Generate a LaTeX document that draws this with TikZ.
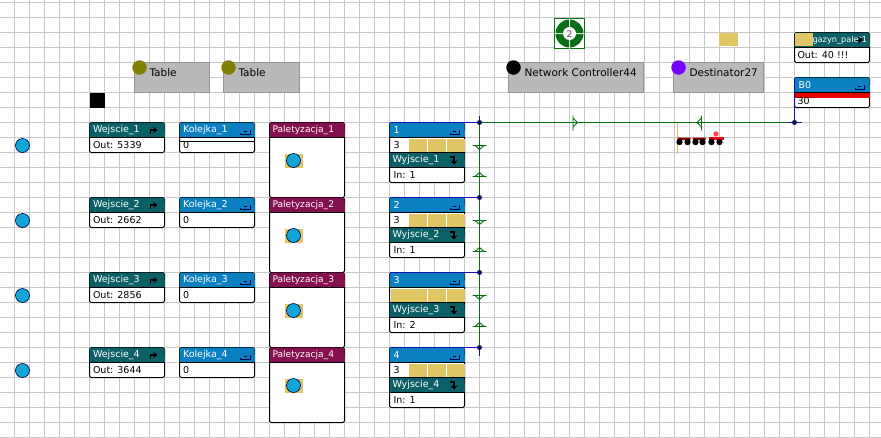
\documentclass[tikz,border=0pt]{standalone}
\usepackage{fontspec}
\setmainfont{DejaVu Sans}
\usetikzlibrary{arrows.meta}
\definecolor{teal1}{HTML}{0B5F66}
\definecolor{blue1}{HTML}{0A80C0}
\definecolor{wine}{HTML}{85104F}
\definecolor{gold}{HTML}{E0C565}
\definecolor{cyan1}{HTML}{12A5D8}
\definecolor{grid1}{HTML}{C8C8C8}
\definecolor{tablegray}{HTML}{B9B9B9}
\definecolor{olive1}{HTML}{808000}
\definecolor{green1}{HTML}{0A6E14}
\definecolor{navy1}{HTML}{1010B0}
\definecolor{purple1}{HTML}{7400FF}
\tikzset{
 x=1pt,y=-1pt,
 every node/.style={inner sep=0pt,outer sep=0pt},
 txt/.style={font=\fontsize{9.5}{10}\selectfont,anchor=west,text=black},
 head/.style={font=\fontsize{9.5}{10}\selectfont,anchor=west,text=white},
 lab/.style={font=\fontsize{10.5}{11}\selectfont,anchor=west},
 box/.style={draw=black,fill=white,line width=1pt,rounded corners=1.5pt,anchor=north west,minimum width=75pt,minimum height=30pt},
 graybox/.style={draw=gray!85,fill=tablegray,line width=.5pt,anchor=north west,minimum height=30pt},
 ball/.style={circle,draw=black!70!blue,line width=.6pt,fill=cyan1,minimum size=14pt},
 pin/.style={circle,minimum size=14.5pt},
 gline/.style={draw=green1,line width=1pt},
 bline/.style={draw=navy1,line width=1pt},
 dot/.style={circle,fill=navy1!50!black,minimum size=5pt}
}
\newcommand{\hdr}[4]{% x,y,w,color
 \fill[#4,rounded corners=1.5pt] (#1,#2) rectangle ++(#3,15);
 \fill[#4] (#1,#2+7) rectangle ++(#3,8);
 \draw[black,line width=1pt] (#1,#2+15) -- ++(#3,0);
}
\newcommand{\blk}[8]{% name,x,y,height,color,title,body,icon
 \node[box,minimum height=#4pt] (#1) at (#2,#3) {};
 \hdr{#2}{#3}{75}{#5}
 \node[head] at (#2+3.5,#3+7.5) {#6};
 \node[txt] at (#2+3.5,#3+22.5) {#7};
 #8
}
\newcommand{\arr}[2]{\draw[black,line width=1.3pt,-{Stealth[length=4pt,width=6pt]}] (#1,#2+3.5) -- ++(0,-3.5) -- ++(7,0);}
\newcommand{\darr}[2]{\draw[black,line width=1.3pt,-{Stealth[length=4pt,width=7pt]}] (#1,#2-3) -- ++(4.5,0) -- ++(0,7.5);}
\newcommand{\tray}[2]{\draw[black!60!navy1,line width=.9pt] (#1,#2-2) -- (#1,#2) -- ++(9.5,0) -- ++(0,-5);\draw[black!60!navy1,line width=.9pt] (#1+3,#2-3) -- ++(3,0);}
\begin{document}
\begin{tikzpicture}
\useasboundingbox (0,0) rectangle (881,437);
\fill[white] (0,0) rectangle (881,437);
\begin{scope}[xshift=.5pt,yshift=-.5pt]
% grid
\foreach \i in {0,...,58} \draw[grid1,line width=1pt] (14+15*\i,-1) -- (14+15*\i,438);
\foreach \i in {0,...,29} \draw[grid1,line width=1pt] (-1,2+15*\i) -- (882,2+15*\i);
% top gray boxes
\node[graybox,minimum width=75pt] (t1) at (134,62) {};
\node[graybox,minimum width=76pt] (t2) at (223,62) {};
\node[graybox,minimum width=135pt] (nc) at (508,62) {};
\node[graybox,minimum width=90pt] (de) at (673,62) {};
\node[pin,fill=olive1] (t1p) at (139,67) {};
\node[pin,fill=olive1] (t2p) at (228,67) {};
\node[pin,fill=black] (ncp) at (513,67) {};
\node[pin,fill=purple1] (dep) at (678,67) {};
\node[lab] at (149,72) {Table};
\node[lab] at (238,72) {Table};
\node[lab] at (524,72) {Network Controller44};
\node[lab] at (689,72) {Destinator27};
\node[fill=black,minimum size=15pt,anchor=north west] (blk) at (89,92) {};
% left balls
\foreach \y/\n in {145/1,220/2,295/3,370/4} \node[ball] (src\n) at (22,\y) {};
% rows
\foreach \n/\y/\o in {1/122/5339,2/197/2662,3/272/2856,4/347/3644}{
 \blk{we\n}{89}{\y}{30}{teal1}{Wejscie\_\n}{Out: \o}{\arr{150}{\y+7.5}}
 \blk{ko\n}{179}{\y}{30}{blue1}{Kolejka\_\n}{0}{\tray{240}{\y+12}}
 \node[box,minimum height=75pt] (pa\n) at (269,\y) {};
 \hdr{269}{\y}{75}{wine}
 \node[head,font=\fontsize{9.1}{10}\selectfont] at (272,\y+7.5) {Paletyzacja\_\n};
 \fill[gold] (284,\y+31) rectangle ++(18,14);
 \node[ball] (pb\n) at (293,\y+38) {};
}
\draw[black,line width=1pt] (179,141) -- (254,141);
% queues
\foreach \n/\y/\c/\i in {1/122/3/1,2/197/3/1,3/272//2,4/347/3/1}{
 \node[box,minimum height=60pt] (q\n) at (389,\y) {};
 \hdr{389}{\y}{75}{blue1}
 \node[head] at (393,\y+7.5) {\n};
 \hdr{389}{\y+30}{75}{teal1}
 \draw[black,line width=1pt] (389,\y+30) -- (464,\y+30);
 \node[head] at (392,\y+37.5) {Wyjscie\_\n};
 \node[txt] at (393,\y+52.5) {In: \i};
 \node[txt] at (393,\y+22.5) {\c};
 \tray{449.5}{\y+12}
 \darr{449}{\y+37.5}
}
\foreach \y in {122,197,347}{
 \fill[gold] (408,\y+16) rectangle (426,\y+29);
 \fill[gold] (427,\y+16) rectangle (445,\y+29);
 \fill[gold] (446,\y+16) rectangle (464,\y+29);
}
\fill[gold] (390,288) rectangle (426,301);
\fill[gold] (427,288) rectangle (445,301);
\fill[gold] (446,288) rectangle (464,301);
% magazyn, B0
\node[box] (mg) at (794,32) {};
\hdr{794}{32}{75}{teal1}
\node[head,font=\fontsize{8.2}{10}\selectfont] at (812,39.5) {gazyn\_palet1};
\fill[gold] (794,32) rectangle (812,45);
\fill[black] (858,36) -- (862.5,39.5) -- (858,43) -- cycle;
\draw[black,line width=1pt] (855,39.5) -- (860,39.5);
\node[txt] at (797,54.5) {Out: 40 !!!};
\node[box] (b0) at (794,77) {};
\hdr{794}{77}{75}{blue1}
\fill[red!90!black] (794,92) rectangle (869,97);
\node[head] at (798,84.5) {B0};
\node[txt] at (797,100.5) {30};
\tray{854.5}{89}
\node[fill=gold,minimum width=19pt,minimum height=13pt,anchor=north west] (gs) at (718,32) {};
% connectors
\coordinate (jt) at (479,122);
\coordinate (je) at (794,122);
\draw[bline] (479,115) -- (479,355);
\draw[gline] (jt) -- (je);
\draw[gline] (jt) -- (479,347);
\foreach \y in {122,197,272,347}{
 \draw[bline] (389,\y) -- (479,\y);
 \node[dot] at (479,\y) {};
}
\draw[bline] (794,77) -- (794,122);
\draw[bline] (787,122) -- (801,122);
\node[dot] (d0) at (794,122) {};
\foreach \y in {145,220,295}{
 \draw[green1,line width=.9pt] (472,\y) -- (486,\y) (474.5,\y) -- (479,\y+4) -- (483.5,\y);
 \draw[green1,line width=.9pt] (472,\y+31) -- (486,\y+31) (474.5,\y+31) -- (479,\y+27) -- (483.5,\y+31);
}
\draw[green1,line width=.9pt] (572.5,115) -- (572.5,130) (572.5,117.5) -- (577,122) -- (572.5,126.5);
\draw[green1,line width=.9pt] (701,115) -- (701,130) (701,117.5) -- (696.5,122) -- (701,126.5);
% train
\draw[gold!90!orange,line width=1pt] (676.5,122) -- (676.5,153);
\fill[red!55!black] (677,137) rectangle (690,139.5) (692,137) rectangle (705,139.5);
\fill[red!75!purple] (708,136) rectangle (723,139.5);
\fill[red!70!white] (715.5,133.5) circle (2.7);
\foreach \x in {679,687,695,702,711,719} \fill[black] (\x,141.5) circle (3.2);
% network icon
\draw[green1,fill=white,line width=1pt] (554,18) rectangle (584,48);
\fill[green1] (569,33) circle (14);
\fill[white!85!green1] (554,32.5) rectangle (584,33.5) (568.5,18) rectangle (569.5,48);
\fill[white] (569,33) circle (6.5);
\node[font=\fontsize{9}{10}\selectfont,text=black!70] (ni) at (569,33.5) {2};
\end{scope}
\end{tikzpicture}
\end{document}
